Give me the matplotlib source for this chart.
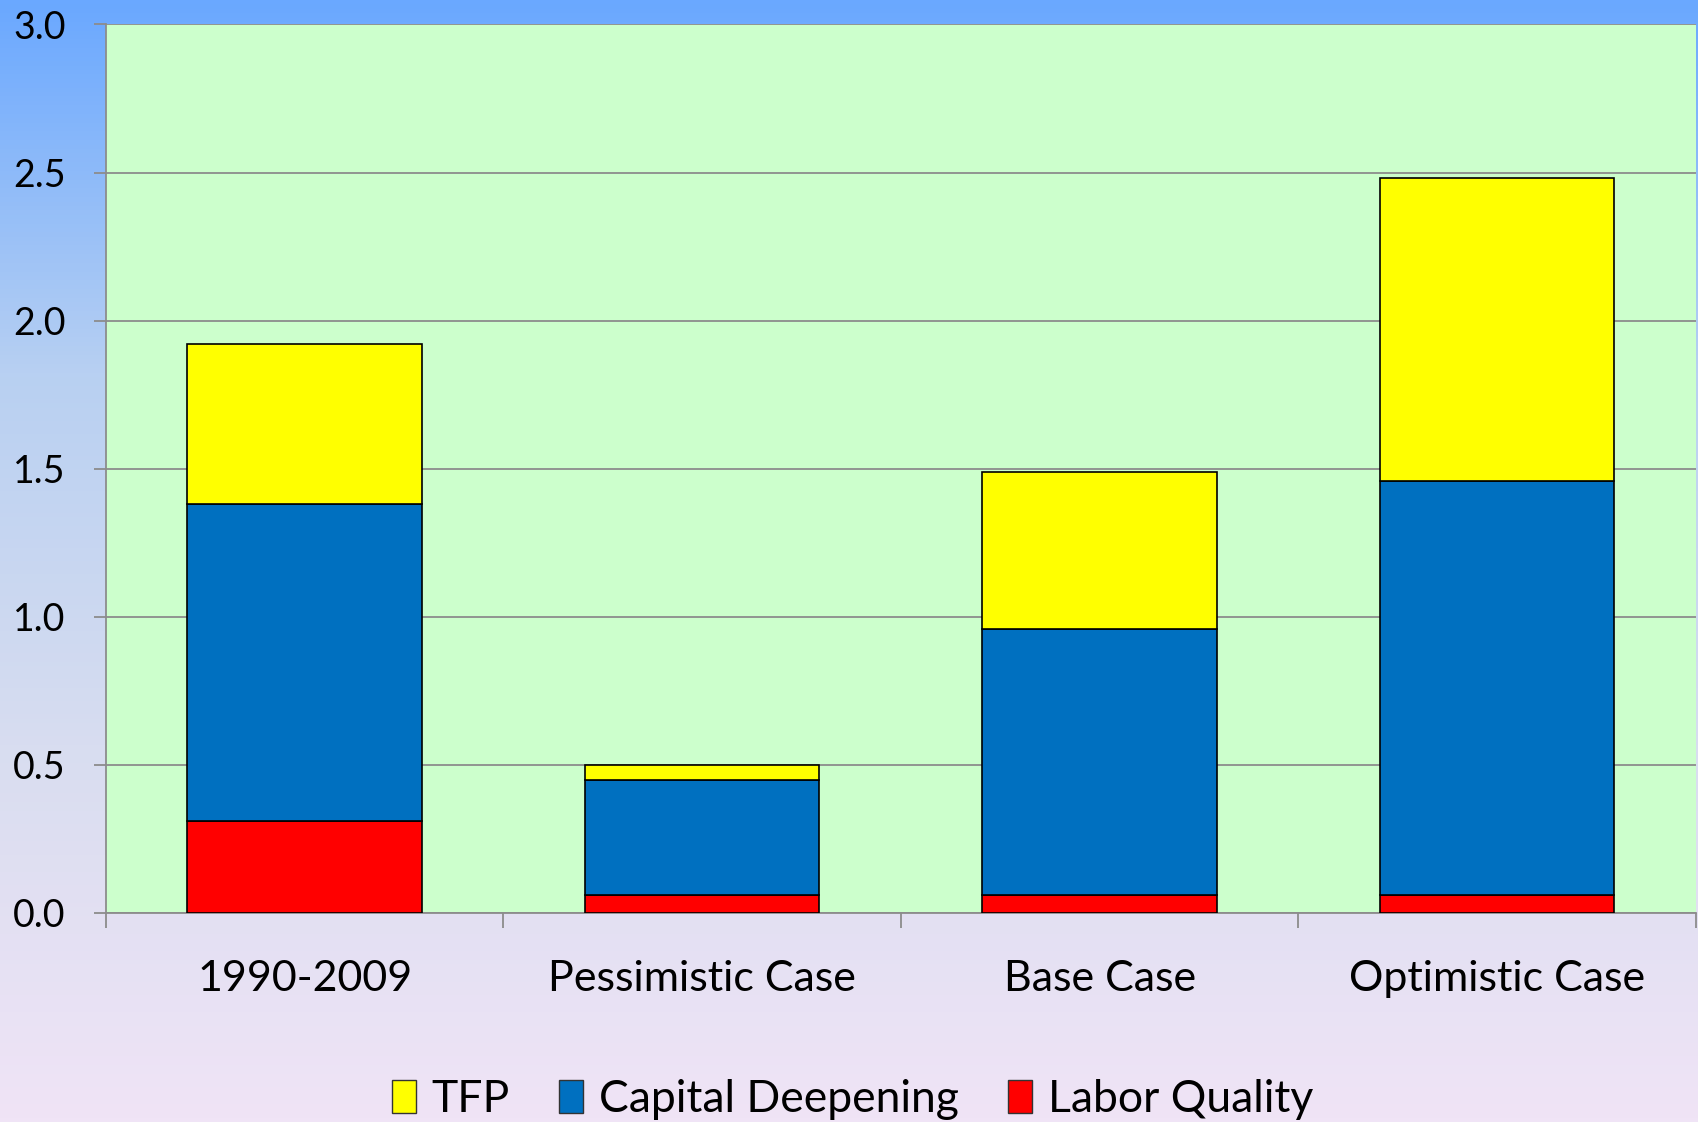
import numpy as np
import matplotlib.pyplot as plt
from matplotlib.colors import LinearSegmentedColormap
from matplotlib.patches import Patch

# data
categories = ['1990-2009', 'Pessimistic Case', 'Base Case', 'Optimistic Case']
labor_quality = [0.31, 0.06, 0.06, 0.06]
capital_deepening = [1.07, 0.39, 0.90, 1.40]
tfp = [0.54, 0.05, 0.53, 1.02]

plt.rcParams['font.family'] = ['Lato', 'DejaVu Sans']

fig = plt.figure(figsize=(16.98, 11.22), dpi=100)

# gradient background
bg = fig.add_axes([0, 0, 1, 1], zorder=-10)
cmap = LinearSegmentedColormap.from_list('bg', ['#6aa8ff', '#b8d0f2', '#d8ddf0', '#f0e4f6'])
grad = np.linspace(0, 1, 256).reshape(-1, 1)
bg.imshow(grad, aspect='auto', cmap=cmap, extent=[0, 1, 0, 1], origin='upper')
bg.set_axis_off()

ax = fig.add_axes([0.0624, 0.1863, 0.9364, 0.7919])
ax.set_facecolor('#ccffcc')

x = np.arange(len(categories))
w = 0.59
lab = np.array(labor_quality)
cap = np.array(capital_deepening)
tf = np.array(tfp)
ax.bar(x, lab, w, color='#ff0000', edgecolor='black', linewidth=1.2, zorder=3)
ax.bar(x, cap, w, bottom=lab, color='#0070c0', edgecolor='black', linewidth=1.2, zorder=3)
ax.bar(x, tf, w, bottom=lab + cap, color='#ffff00', edgecolor='black', linewidth=1.2, zorder=3)

ax.set_xlim(-0.5, 3.5)
ax.set_ylim(0, 3.0)
ax.set_yticks(np.arange(0, 3.01, 0.5))
ax.set_yticklabels([f'{v:.1f}' for v in np.arange(0, 3.01, 0.5)])
ax.yaxis.grid(True, color='#8c8c8c', linewidth=1.3, zorder=0)
ax.set_axisbelow(True)

ax.set_xticks(x)
ax.set_xticklabels(categories)
ax.set_xticks(np.arange(-0.5, 3.6, 1), minor=True)
ax.tick_params(axis='x', which='major', length=0, pad=34, labelsize=31)
ax.tick_params(axis='x', which='minor', length=11, color='#8c8c8c', width=1.3)
ax.tick_params(axis='y', length=9, color='#8c8c8c', width=1.3, pad=20, labelsize=27)

for s in ['top', 'right']:
    ax.spines[s].set_visible(False)
for s in ['left', 'bottom']:
    ax.spines[s].set_color('#8c8c8c')
    ax.spines[s].set_linewidth(1.3)

handles = [Patch(facecolor='#ffff00', edgecolor='#333333', label='TFP'),
           Patch(facecolor='#0070c0', edgecolor='#333333', label='Capital Deepening'),
           Patch(facecolor='#ff0000', edgecolor='#333333', label='Labor Quality')]
fig.legend(handles=handles, loc='center', bbox_to_anchor=(0.502, 0.02), ncol=3,
           frameon=False, fontsize=32, handlelength=0.55, handleheight=0.75,
           handletextpad=0.35, columnspacing=1.1)

fig.savefig('out.png', dpi=100)
